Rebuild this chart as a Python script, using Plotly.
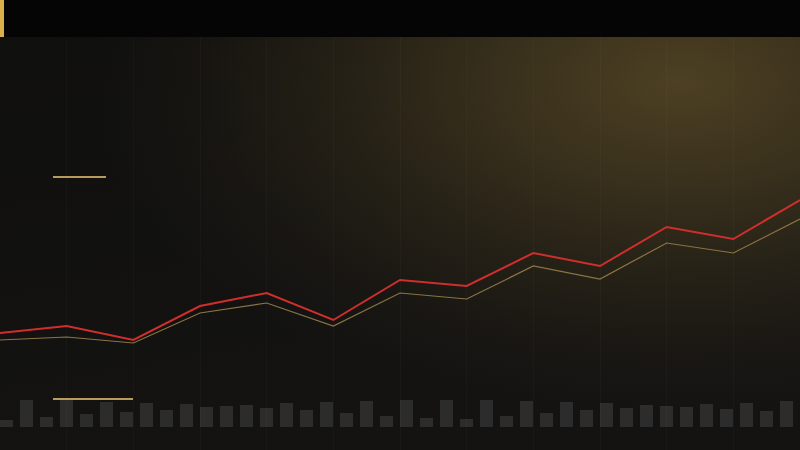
import base64
import plotly.graph_objects as go

# ── Datos ──────────────────────────────────────────────────────────────────
periodos = list(range(13))
serie_principal = [117, 124, 110, 144, 157, 130, 170, 164, 197, 184, 223, 211, 250]
serie_media     = [110, 113, 107, 137, 147, 124, 157, 151, 184, 171, 207, 197, 231]

volumen_idx = list(range(40))
volumen = [6.7, 26.7, 10, 26.7, 12.7, 25, 15, 24, 17, 22.7,
           20, 21, 21.7, 19, 23.3, 16.7, 25, 14, 25.7, 11,
           26.7, 8.3, 26.7, 7.7, 26.7, 10.7, 26, 13.3, 25, 16.7,
           23.3, 18.3, 21.7, 20.7, 20, 22.7, 18, 24, 15.7, 25.7]

# Colores
BG     = "#121110"
RED    = "#cf2f2c"
GOLD   = "#8c7444"
ACCENT = "#dcae4e"
BAR    = "rgba(255,255,255,0.11)"

W, H = 800, 450

# ── Fondo: degradado radial dorado (SVG como imagen de fondo) ───────────────
svg = f"""<svg xmlns="http://www.w3.org/2000/svg" width="{W}" height="{H}" viewBox="0 0 {W} {H}">
<defs>
<linearGradient id="base" x1="0" y1="0" x2="0.3" y2="1">
<stop offset="0" stop-color="#0f0f0e"/><stop offset="1" stop-color="#141312"/>
</linearGradient>
<radialGradient id="glow" cx="0.85" cy="0.18" r="0.74">
<stop offset="0" stop-color="rgb(150,122,58)" stop-opacity="0.45"/>
<stop offset="0.3" stop-color="rgb(150,122,58)" stop-opacity="0.30"/>
<stop offset="0.55" stop-color="rgb(150,122,58)" stop-opacity="0.16"/>
<stop offset="0.8" stop-color="rgb(150,122,58)" stop-opacity="0.05"/>
<stop offset="1" stop-color="rgb(150,122,58)" stop-opacity="0"/>
</radialGradient>
</defs>
<rect width="{W}" height="{H}" fill="url(#base)"/>
<rect width="{W}" height="{H}" fill="url(#glow)"/>
</svg>"""
bg_src = "data:image/svg+xml;base64," + base64.b64encode(svg.encode()).decode()

fig = go.Figure()

# Volumen (barras al pie)
fig.add_trace(go.Bar(
    x=volumen_idx, y=volumen,
    xaxis="x2", yaxis="y2",
    width=0.65,
    marker=dict(color=BAR, line=dict(width=0)),
    hoverinfo="skip",
))

# Línea media (dorada, fina)
fig.add_trace(go.Scatter(
    x=periodos, y=serie_media, mode="lines",
    line=dict(color=GOLD, width=1.2),
))

# Línea principal (roja)
fig.add_trace(go.Scatter(
    x=periodos, y=serie_principal, mode="lines",
    line=dict(color=RED, width=2),
))

shapes = []
# Barra superior y acento
shapes.append(dict(type="rect", xref="paper", yref="paper", layer="above",
                   x0=0, x1=1, y0=1 - 37 / H, y1=1,
                   fillcolor="#050505", line=dict(width=0)))
shapes.append(dict(type="rect", xref="paper", yref="paper", layer="above",
                   x0=0, x1=4 / W, y0=1 - 37 / H, y1=1,
                   fillcolor=ACCENT, line=dict(width=0)))

# Marcas doradas pequeñas
for x0, x1, y in [(53, 106, 177), (53, 133, 399)]:
    shapes.append(dict(type="line", xref="paper", yref="paper", layer="above",
                       x0=x0 / W, x1=x1 / W, y0=1 - y / H, y1=1 - y / H,
                       line=dict(color="#b89a5a", width=2)))

# ── Layout ──────────────────────────────────────────────────────────────────
fig.update_layout(
    width=W, height=H,
    margin=dict(l=0, r=0, t=0, b=0),
    paper_bgcolor=BG,
    plot_bgcolor="rgba(0,0,0,0)",
    showlegend=False,
    bargap=0,
    shapes=shapes,
    images=[dict(source=bg_src, xref="paper", yref="paper", x=0, y=1,
                 sizex=1, sizey=1, sizing="stretch", layer="below",
                 xanchor="left", yanchor="top")],
    xaxis=dict(range=[0, 12], dtick=1, showgrid=True,
               gridcolor="rgba(255,255,255,0.022)", gridwidth=1,
               zeroline=False, showticklabels=False, ticks=""),
    yaxis=dict(range=[0, H], showgrid=False, zeroline=False,
               showticklabels=False, ticks=""),
    xaxis2=dict(range=[-0.325, 39.675], overlaying="x", visible=False),
    yaxis2=dict(range=[-23.5, H - 23.5], overlaying="y", visible=False),
)

fig.write_html("out.html", config={"displayModeBar": False},
               post_script="document.body.style.margin='0';document.body.style.background='#121110';")
